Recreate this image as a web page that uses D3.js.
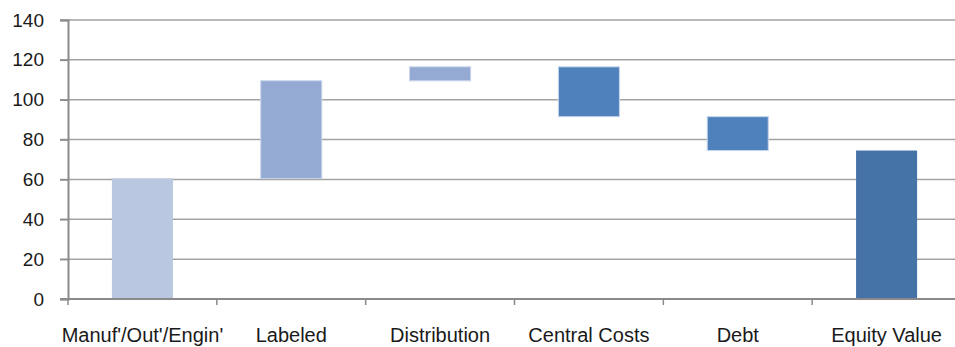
<!DOCTYPE html>
<html>
<head>
<meta charset="utf-8">
<script src="https://cdn.jsdelivr.net/npm/d3@7"></script>
<style>
  html, body { margin: 0; padding: 0; background: #fff; }
  svg { display: block; }
  text { font-family: "Liberation Sans", Arial, sans-serif; fill: #1a1a1a; }
</style>
</head>
<body>
<svg id="chart" width="955" height="347"></svg>
<script>
const categories = ["Manuf'/Out'/Engin'", "Labeled", "Distribution", "Central Costs", "Debt", "Equity Value"];
const changes = [60.5, 49, 7, -25, -17, 74.5];
const kinds = ["total", "delta", "delta", "delta", "delta", "total"];
const barColors = ["#B9C7E0", "#95AAD3", "#95AAD3", "#4F81BD", "#4F81BD", "#4572A7"];
const yTicks = [0, 20, 40, 60, 80, 100, 120, 140];

// build waterfall segments
let running = 0;
const bars = categories.map((c, i) => {
  let lo, hi;
  if (kinds[i] === "total") { lo = 0; hi = changes[i]; running = changes[i]; }
  else { const start = running; running += changes[i]; lo = Math.min(start, running); hi = Math.max(start, running); }
  return { cat: c, lo, hi, color: barColors[i], kind: kinds[i] };
});

const svg = d3.select("#chart");
const mLeft = 68, mRight = 961, mTop = 20, mBottom = 299;

const x = d3.scaleBand().domain(categories).range([mLeft, mRight]).paddingInner(0).paddingOuter(0);
const y = d3.scaleLinear().domain([0, 140]).range([mBottom, mTop]);

// gridlines
svg.append("g").selectAll("line").data(yTicks.filter(d => d > 0)).join("line")
  .attr("x1", mLeft - 8).attr("x2", 955)
  .attr("y1", d => y(d)).attr("y2", d => y(d))
  .attr("stroke", "#a3a3a3").attr("stroke-width", 1.5);

// bars
const bw = x.bandwidth() * 0.41;
svg.append("g").selectAll("rect").data(bars).join("rect")
  .attr("x", d => x(d.cat) + x.bandwidth() / 2 - bw / 2)
  .attr("width", bw)
  .attr("y", d => y(d.hi))
  .attr("height", d => y(d.lo) - y(d.hi))
  .attr("fill", d => d.color)
  .attr("stroke", d => d.kind === "delta" ? "#C6D5EA" : "none")
  .attr("stroke-width", 1);

// y axis
const yAxis = d3.axisLeft(y).tickValues(yTicks).tickSize(8).tickPadding(16);
const gy = svg.append("g").attr("transform", `translate(${mLeft},0)`).call(yAxis);
gy.select(".domain").attr("stroke", "#8a8a8a").attr("stroke-width", 2);
gy.selectAll(".tick line").attr("stroke", "#8a8a8a").attr("stroke-width", 1.5);
gy.selectAll(".tick text").style("font-size", "19px").attr("fill", "#1a1a1a");

// x axis
const xAxis = d3.axisBottom(x).tickSize(0).tickPadding(29);
const gx = svg.append("g").attr("transform", `translate(0,${mBottom})`).call(xAxis);
gx.select(".domain").attr("d", `M${mLeft - 8},0H955`).attr("stroke", "#8a8a8a").attr("stroke-width", 2);
gx.selectAll(".tick text").style("font-size", "20px").attr("fill", "#1a1a1a");
// boundary ticks between categories
const bounds = categories.slice(1).map(c => x(c));
gx.append("g").selectAll("line").data([mLeft].concat(bounds)).join("line")
  .attr("x1", d => d).attr("x2", d => d).attr("y1", 0).attr("y2", 6)
  .attr("stroke", "#8a8a8a").attr("stroke-width", 1.5);
</script>
</body>
</html>
